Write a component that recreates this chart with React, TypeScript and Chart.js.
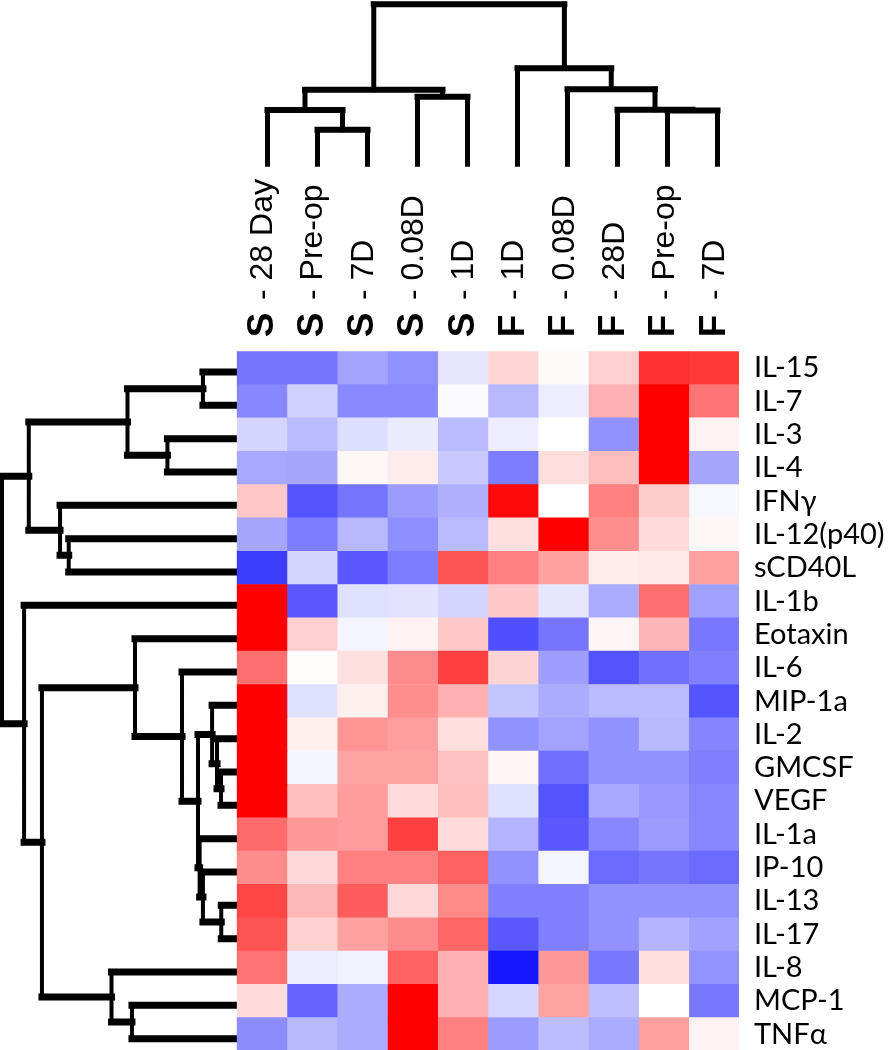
import React, { useEffect, useRef } from "react";
import { Chart, registerables } from "chart.js";

Chart.register(...registerables);

const W = 890;
const H = 1060;
const HEAT_H = 1067;

// Column labels (two parts: bold group letter, normal time point)
const columnGroups = ["S", "S", "S", "S", "S", "F", "F", "F", "F", "F"];
const columnTimes = ["- 28 Day", "- Pre-op", "- 7D", "- 0.08D", "- 1D", "- 1D", "- 0.08D", "- 28D", "- Pre-op", "- 7D"];

// Row labels
const rowLabels = [
  "IL-15", "IL-7", "IL-3", "IL-4", "IFNγ", "IL-12(p40)", "sCD40L", "IL-1b", "Eotaxin", "IL-6",
  "MIP-1a", "IL-2", "GMCSF", "VEGF", "IL-1a", "IP-10", "IL-13", "IL-17", "IL-8", "MCP-1", "TNFα",
];

// Heat values (-1 deep blue ... 0 white ... +1 deep red), one array per row, columns in order above
const heatValues = [
  [-0.54, -0.54, -0.36, -0.43, -0.10, 0.16, 0.02, 0.19, 0.81, 0.78],
  [-0.47, -0.18, -0.46, -0.46, -0.02, -0.28, -0.07, 0.31, 1.00, 0.54],
  [-0.17, -0.27, -0.13, -0.08, -0.27, -0.07, 0.00, -0.43, 1.00, 0.05],
  [-0.34, -0.35, 0.03, 0.08, -0.21, -0.51, 0.13, 0.25, 1.00, -0.35],
  [0.22, -0.67, -0.54, -0.39, -0.31, 0.96, 0.00, 0.50, 0.20, -0.03],
  [-0.35, -0.51, -0.28, -0.44, -0.27, 0.12, 1.00, 0.44, 0.14, 0.03],
  [-0.76, -0.17, -0.65, -0.51, 0.67, 0.50, 0.37, 0.08, 0.09, 0.37],
  [1.00, -0.65, -0.12, -0.11, -0.17, 0.22, -0.10, -0.33, 0.56, -0.37],
  [1.00, 0.19, -0.04, 0.05, 0.21, -0.69, -0.54, 0.04, 0.29, -0.53],
  [0.56, 0.01, 0.12, 0.45, 0.75, 0.17, -0.38, -0.67, -0.56, -0.50],
  [1.00, -0.12, 0.06, 0.44, 0.31, -0.23, -0.33, -0.27, -0.27, -0.67],
  [1.00, 0.06, 0.42, 0.38, 0.13, -0.43, -0.36, -0.43, -0.28, -0.48],
  [1.00, -0.04, 0.36, 0.36, 0.24, 0.04, -0.56, -0.43, -0.43, -0.50],
  [1.00, 0.25, 0.39, 0.14, 0.25, -0.12, -0.67, -0.34, -0.40, -0.47],
  [0.58, 0.40, 0.39, 0.75, 0.14, -0.29, -0.65, -0.47, -0.39, -0.47],
  [0.45, 0.15, 0.50, 0.50, 0.62, -0.43, -0.04, -0.58, -0.54, -0.58],
  [0.72, 0.28, 0.64, 0.15, 0.46, -0.50, -0.50, -0.43, -0.43, -0.43],
  [0.67, 0.18, 0.37, 0.45, 0.60, -0.65, -0.50, -0.43, -0.29, -0.37],
  [0.55, -0.07, -0.05, 0.62, 0.31, -0.91, 0.40, -0.53, 0.13, -0.42],
  [0.14, -0.60, -0.33, 1.00, 0.31, -0.16, 0.36, -0.25, 0.00, -0.53],
  [-0.45, -0.28, -0.33, 1.00, 0.50, -0.39, -0.26, -0.33, 0.37, 0.05],
];

// Column dendrogram merges: [childA, childB, height]; leaves 0..9, new nodes from 10
const colMerges: [number, number, number][] = [
  [1, 2, 2.16],
  [0, 10, 3.39],
  [3, 4, 4.22],
  [11, 12, 4.66],
  [8, 9, 3.36],
  [7, 14, 3.40],
  [6, 15, 4.68],
  [5, 16, 5.99],
  [13, 17, 10],
];

// Row dendrogram merges: leaves 0..20, new nodes from 21
const rowMerges: [number, number, number][] = [
  [0, 1, 1.45],
  [2, 3, 2.96],
  [21, 22, 4.66],
  [5, 6, 7.16],
  [4, 24, 7.53],
  [23, 25, 8.86],
  [12, 13, 0.68],
  [11, 27, 0.85],
  [10, 28, 1.06],
  [16, 17, 0.67],
  [15, 30, 1.45],
  [14, 31, 1.59],
  [29, 32, 1.66],
  [9, 33, 2.34],
  [8, 34, 4.34],
  [19, 20, 4.47],
  [18, 36, 5.34],
  [35, 37, 8.30],
  [7, 38, 9.06],
  [26, 39, 10],
];

function heatColor(v: number): string {
  const t = Math.min(1, Math.abs(v));
  const c = Math.round(255 * (1 - t));
  return v >= 0 ? `rgb(255,${c},${c})` : `rgb(${c},${c},255)`;
}

type Pt = { x: number | null; y: number | null };

function dendrogram(merges: [number, number, number][], nLeaves: number, horizontal: boolean) {
  const pos: number[] = [];
  const hgt: number[] = [];
  for (let i = 0; i < nLeaves; i++) {
    pos[i] = i;
    hgt[i] = 0;
  }
  const gap: Pt = { x: null, y: null };
  const pt = (p: number, h: number): Pt => (horizontal ? { x: h, y: p } : { x: p, y: h });
  const arms: Pt[] = [];
  const bars: Pt[] = [];
  merges.forEach(([a, b, h], k) => {
    const id = nLeaves + k;
    pos[id] = (pos[a] + pos[b]) / 2;
    hgt[id] = h;
    arms.push(pt(pos[a], hgt[a]), pt(pos[a], h), gap, pt(pos[b], hgt[b]), pt(pos[b], h), gap);
    bars.push(pt(pos[a], h), pt(pos[b], h), gap);
  });
  return { arms, bars };
}

const lineDs = (data: Pt[], width: number) => ({
  data,
  showLine: true,
  borderColor: "#000",
  backgroundColor: "#000",
  borderWidth: width,
  borderCapStyle: "square" as const,
  borderJoinStyle: "miter" as const,
  pointRadius: 0,
  pointHoverRadius: 0,
  clip: false as const,
  spanGaps: false,
});

export default function App() {
  const heatRef = useRef<HTMLCanvasElement>(null);
  const topRef = useRef<HTMLCanvasElement>(null);
  const leftRef = useRef<HTMLCanvasElement>(null);

  useEffect(() => {
    const charts: Chart[] = [];
    const common = {
      responsive: false,
      animation: false as const,
      events: [] as any[],
      plugins: { legend: { display: false }, tooltip: { enabled: false } },
    };

    // Top (column) dendrogram
    const top = dendrogram(colMerges, columnGroups.length, false);
    charts.push(
      new Chart(topRef.current!, {
        type: "scatter",
        data: { datasets: [lineDs(top.arms, 5), lineDs(top.bars, 6)] as any },
        options: {
          ...common,
          layout: { autoPadding: false, padding: { left: 242.5, right: W - 742.5, top: 4.2, bottom: H - 164.2 } },
          scales: {
            x: { type: "linear", min: -0.5, max: 9.5, display: false },
            y: { type: "linear", min: 0, max: 10, display: false },
          },
        } as any,
      })
    );

    // Left (row) dendrogram
    const left = dendrogram(rowMerges, rowLabels.length, true);
    charts.push(
      new Chart(leftRef.current!, {
        type: "scatter",
        data: { datasets: [lineDs(left.arms, 7), lineDs(left.bars, 4)] as any },
        options: {
          ...common,
          layout: { autoPadding: false, padding: { left: 2, right: W - 237, top: 372, bottom: H - 1038.7 } },
          scales: {
            x: { type: "linear", min: 0, max: 10, reverse: true, display: false },
            y: { type: "linear", min: 0, max: 20, reverse: true, display: false },
          },
        } as any,
      })
    );

    // Heatmap
    const noGrid = { display: false, drawTicks: false };
    charts.push(
      new Chart(heatRef.current!, {
        type: "bar",
        data: {
          labels: rowLabels,
          datasets: columnGroups.map((g, c) => ({
            label: `${g} ${columnTimes[c]}`,
            data: rowLabels.map(() => 1),
            backgroundColor: rowLabels.map((_, r) => heatColor(heatValues[r][c])),
            borderWidth: 0,
            barPercentage: 1,
            categoryPercentage: 1,
            xAxisID: "x",
            yAxisID: "y",
          })),
        },
        options: {
          ...common,
          indexAxis: "y",
          layout: { autoPadding: false, padding: { left: 236.7, right: 0, top: 0, bottom: HEAT_H - 1051 } },
          scales: {
            x: { type: "linear", stacked: true, min: 0, max: 10, display: false },
            y: {
              type: "category",
              position: "right",
              stacked: true,
              offset: true,
              grid: noGrid,
              border: { display: false },
              ticks: {
                color: "#000",
                autoSkip: false,
                padding: 15,
                font: { family: "Lato, 'Noto Sans', sans-serif", size: 29, lineHeight: 0.02 },
              },
              afterFit: (s: any) => {
                s.width = W - 739;
              },
            },
            groups: {
              type: "category",
              position: "top",
              labels: columnGroups,
              offset: true,
              weight: 0,
              grid: noGrid,
              border: { display: false },
              ticks: {
                color: "#000",
                autoSkip: false,
                minRotation: 90,
                maxRotation: 90,
                padding: 14,
                labelOffset: 45,
                font: { family: "'Liberation Sans', Arial, sans-serif", size: 37, weight: "bold" },
              },
              afterFit: (s: any) => {
                s.height = 351.3 - 300;
              },
            },
            times: {
              type: "category",
              position: "top",
              labels: columnTimes,
              offset: true,
              weight: 1,
              grid: noGrid,
              border: { display: false },
              ticks: {
                color: "#000",
                autoSkip: false,
                minRotation: 90,
                maxRotation: 90,
                padding: 0,
                labelOffset: 40,
                font: { family: "'Liberation Sans', Arial, sans-serif", size: 32 },
              },
              afterFit: (s: any) => {
                s.height = 300;
              },
            },
          },
        } as any,
      })
    );

    return () => charts.forEach((c) => c.destroy());
  }, []);

  const cv: React.CSSProperties = { position: "absolute", left: 0, top: 0 };
  return (
    <div style={{ position: "absolute", left: 0, top: 0, width: W, height: 1050, overflow: "hidden", background: "#fff" }}>
      <canvas ref={leftRef} width={W} height={H} style={cv} />
      <canvas ref={topRef} width={W} height={H} style={cv} />
      <canvas ref={heatRef} width={W} height={HEAT_H} style={cv} />
    </div>
  );
}
